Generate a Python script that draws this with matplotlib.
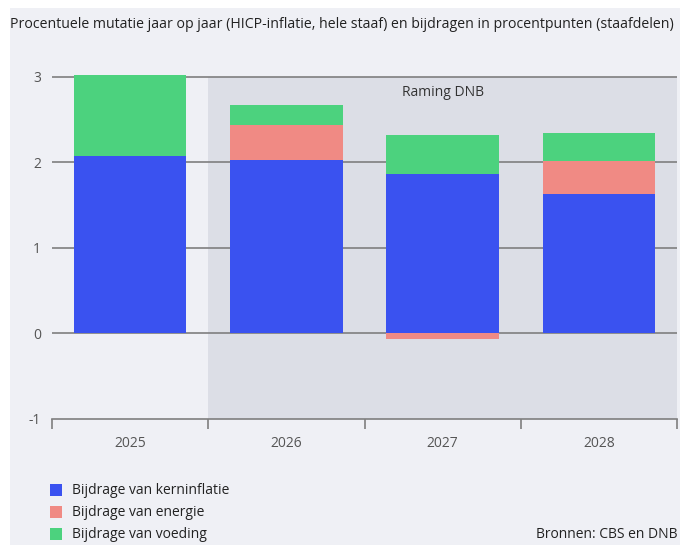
import matplotlib
matplotlib.use("Agg")
import matplotlib.pyplot as plt
from matplotlib.patches import Rectangle

years = ["2025", "2026", "2027", "2028"]
kern = [2.07, 2.03, 1.86, 1.63]
energie = [0.0, 0.41, -0.06, 0.39]
voeding = [0.95, 0.23, 0.46, 0.32]
labels = ["Bijdrage van kerninflatie", "Bijdrage van energie", "Bijdrage van voeding"]
colors = ["#3a52f0", "#f08a84", "#4cd27e"]
title = "Procentuele mutatie jaar op jaar (HICP-inflatie, hele staaf) en bijdragen in procentpunten (staafdelen)"
yticks = [-1, 0, 1, 2, 3]

plt.rcParams['font.family'] = ['Open Sans', 'DejaVu Sans']
BG = "#eff0f5"
fig = plt.figure(figsize=(6.8, 5.45), dpi=100, facecolor="white")
fig.patches.append(Rectangle((10/680, 0), 1, 1 - 8/545, transform=fig.transFigure,
                             facecolor=BG, edgecolor="none", zorder=-10))

ax = fig.add_axes([52/680, 126/545, 625/680, 346.3/545])
ax.set_facecolor("none")
ax.set_zorder(1)
x = list(range(len(years)))
ax.set_xlim(-0.5, 3.5)
ax.set_ylim(-1, 3.05)

ax.add_patch(Rectangle((0.5, -1), 3.0, 4.0, facecolor="#dcdee6", edgecolor="none", zorder=0))
for yv in yticks[1:]:
    ax.axhline(yv, color="#7f7f7f", lw=1.2, zorder=1)

w = 0.72
ax.bar(x, kern, width=w, color=colors[0], zorder=2, label=labels[0])
pos_e = [max(e, 0) for e in energie]
ax.bar(x, energie, width=w, bottom=[k if e >= 0 else 0 for k, e in zip(kern, energie)],
       color=colors[1], zorder=2, label=labels[1])
ax.bar(x, voeding, width=w, bottom=[k + p for k, p in zip(kern, pos_e)],
       color=colors[2], zorder=2, label=labels[2])

for s in ["top", "right", "left"]:
    ax.spines[s].set_visible(False)
ax.spines["bottom"].set_color("#7f7f7f")
ax.spines["bottom"].set_linewidth(1.2)
ax.set_xticks([-0.5, 0.5, 1.5, 2.5, 3.5])
ax.set_xticklabels([])
ax.set_xticks(x, minor=True)
ax.set_xticklabels(years, minor=True)
ax.tick_params(axis="x", which="major", length=7, color="#7f7f7f", width=1.2)
ax.tick_params(axis="x", which="minor", length=0, pad=12, labelsize=10, labelcolor="#555555")
ax.set_yticks(yticks)
ax.set_yticklabels([str(v) for v in yticks])
ax.tick_params(axis="y", length=0, pad=8, labelsize=10, labelcolor="#555555")

ax.text(2, 2.82, "Raming DNB", ha="center", va="center", fontsize=10, color="#333333")

fig.text(10/680, 1 - 25/545, title, ha="left", va="center", fontsize=10.2, color="#222222")

for i, (lab, c) in enumerate(zip(labels, colors)):
    yy = 1 - (490 + 22 * i) / 545
    fig.patches.append(Rectangle((50/680, yy - 6/545), 12/680, 12/545, transform=fig.transFigure,
                                 facecolor=c, edgecolor="none"))
    fig.text(72/680, yy, lab, ha="left", va="center", fontsize=10, color="#222222")
fig.text(677/680, 1 - 534/545, "Bronnen: CBS en DNB", ha="right", va="center", fontsize=10, color="#222222")

fig.savefig("out.png", dpi=100, facecolor="white")
